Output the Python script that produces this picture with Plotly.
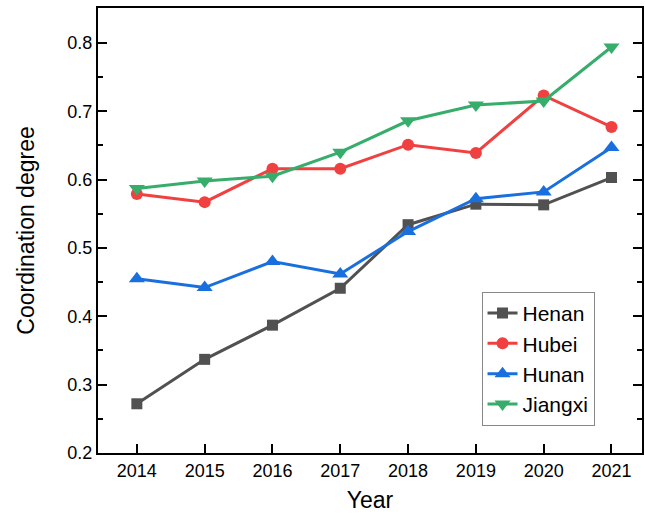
import plotly.graph_objects as go

years = [2014, 2015, 2016, 2017, 2018, 2019, 2020, 2021]
henan = [0.272, 0.337, 0.387, 0.441, 0.534, 0.564, 0.563, 0.603]
hubei = [0.579, 0.567, 0.616, 0.616, 0.651, 0.639, 0.723, 0.677]
hunan = [0.455, 0.442, 0.480, 0.462, 0.524, 0.572, 0.582, 0.647]
jiangxi = [0.587, 0.598, 0.605, 0.640, 0.686, 0.709, 0.715, 0.794]

y_ticks = [0.2, 0.3, 0.4, 0.5, 0.6, 0.7, 0.8]

series = [
    ("Henan", henan, "#515151", "square", 11),
    ("Hubei", hubei, "#F14040", "circle", 12),
    ("Hunan", hunan, "#1A6FDF", "triangle-up", 14),
    ("Jiangxi", jiangxi, "#37AD6B", "triangle-down", 14),
]

FONT = "Liberation Sans, Arial, sans-serif"

fig = go.Figure()
for name, vals, color, symbol, size in series:
    fig.add_trace(go.Scatter(
        x=years, y=vals, name=name, mode="lines+markers",
        line=dict(color=color, width=3),
        marker=dict(symbol=symbol, size=size, color=color),
    ))

axis_common = dict(
    showline=True, linecolor="black", linewidth=2,
    ticks="inside", ticklen=9, tickwidth=2, tickcolor="black",
    showgrid=False, zeroline=False,
    tickfont=dict(family=FONT, size=18, color="black"),
)

fig.update_xaxes(
    **axis_common,
    range=[2013.427, 2021.45],
    tickvals=years, ticktext=[str(y) for y in years],
    mirror=True,
    title=dict(text="Year", font=dict(family=FONT, size=23, color="black"), standoff=12),
)
fig.update_yaxes(
    **axis_common,
    range=[0.2, 0.851],
    tickvals=y_ticks, ticktext=[f"{v:.1f}" for v in y_ticks],
    mirror="ticks",
    minor=dict(ticks="inside", ticklen=5, tickwidth=2, tickcolor="black", dtick=0.05, tick0=0.2),
    title=dict(text="Coordination degree", font=dict(family=FONT, size=23, color="black"), standoff=26),
)

fig.update_layout(
    width=645, height=516,
    margin=dict(l=98, r=1, t=8, b=63),
    paper_bgcolor="white", plot_bgcolor="white",
    legend=dict(
        x=0.705, y=0.362, xanchor="left", yanchor="top",
        bordercolor="#888888", borderwidth=1, bgcolor="white",
        font=dict(family=FONT, size=21, color="black"),
        tracegroupgap=0,
    ),
)

fig.write_html("out.html")
